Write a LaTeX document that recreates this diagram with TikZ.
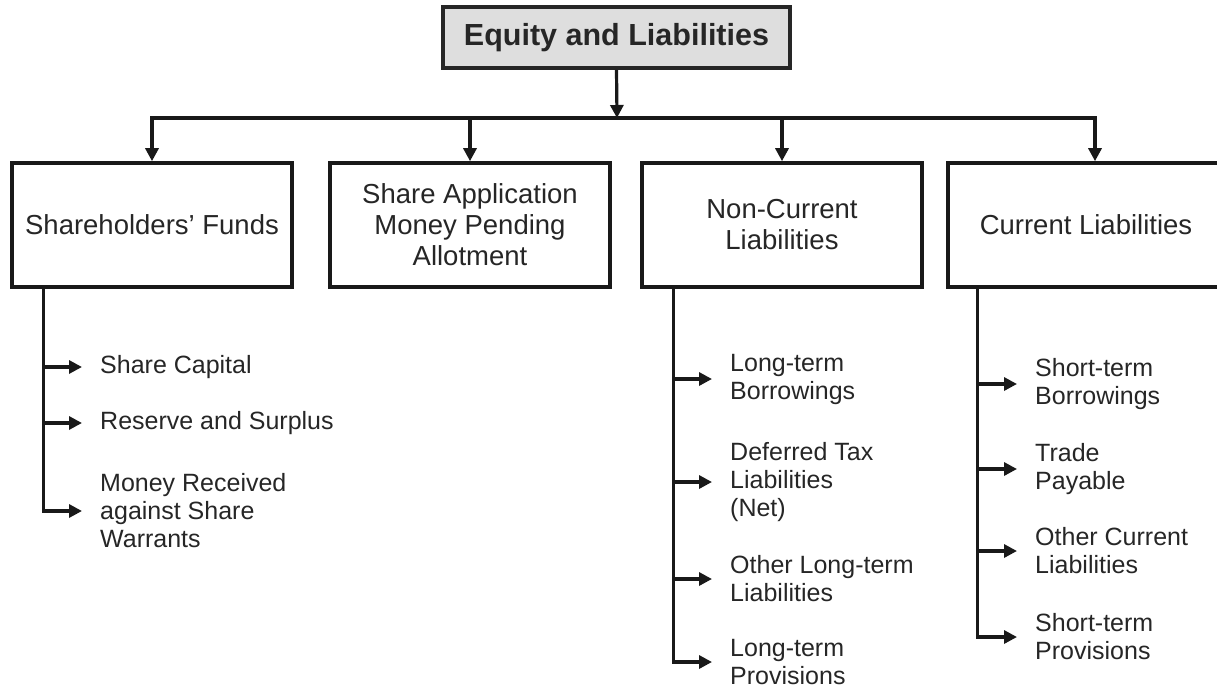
\documentclass[tikz,border=0pt]{standalone}
\usepackage{fontspec}
\setmainfont{Liberation Sans}
\usetikzlibrary{arrows.meta}
\begin{document}
\begin{tikzpicture}[x=1pt,y=-1pt,
  ink/.style={draw=black!90, line width=3.2pt},
  arr/.style={ink, -{Triangle[length=13pt,width=13pt]}},
  headbox/.style={draw=black!85, line width=3.6pt, fill=black!13,
    minimum width=347pt, minimum height=61pt, inner sep=0pt,
    font=\fontsize{30.5}{34}\selectfont\bfseries, text=black!85},
  catbox/.style={draw=black!90, line width=3.6pt, fill=white,
    minimum width=280pt, minimum height=124pt, inner sep=0pt, align=center,
    font=\fontsize{27.5}{31}\selectfont, text=black!85},
  itembox/.style={anchor=west, inner xsep=18pt, inner ysep=0pt, align=left,
    font=\fontsize{25}{28}\selectfont, text=black!85}
]
\useasboundingbox (0,0) rectangle (1217,690);

% head and the four groups
\node[headbox] (top) at (616.5,37.5) {Equity and Liabilities};
\coordinate (bus) at (617,118);
\coordinate (d4) at (1095,118);

\node[catbox] (b1) at (152,225) {Shareholders' Funds};
\node[catbox] (b2) at (470,225) {Share Application\\Money Pending\\Allotment};
\node[catbox] (b3) at (782,225) {Non-Current\\Liabilities};
\node[catbox, minimum width=276pt] (b4) at (1086,225) {Current Liabilities};

% distribution bus
\draw[arr] (top.south) -- (bus);
\draw[ink, line cap=rect] (b1.north |- bus) -- (d4);
\draw[arr] (b1.north |- bus) -- (b1.north);
\draw[arr] (b2.north |- bus) -- (b2.north);
\draw[arr] (b3.north |- bus) -- (b3.north);
\draw[arr] (d4) -- (d4 |- b4.north);

% items under each group
\node[itembox] (s1) at (82,367) {Share Capital};
\node[itembox] (s2) at (82,423) {Reserve and Surplus};
\node[itembox] (s3) at (82,511) {Money Received\\against Share\\Warrants};

\node[itembox] (n1) at (712,379) {Long-term\\Borrowings};
\node[itembox] (n2) at (712,482) {Deferred Tax\\Liabilities\\(Net)};
\node[itembox] (n3) at (712,579) {Other Long-term\\Liabilities};
\node[itembox] (n4) at (712,662) {Long-term\\Provisions};

\node[itembox] (c1) at (1017,384) {Short-term\\Borrowings};
\node[itembox] (c2) at (1017,469) {Trade\\Payable};
\node[itembox] (c3) at (1017,551) {Other Current\\Liabilities};
\node[itembox] (c4) at (1017,637) {Short-term\\Provisions};

% trunks
\coordinate (t1) at ([xshift=33pt]b1.south west);
\coordinate (t3) at ([xshift=33pt]b3.south west);
\coordinate (t4) at ([xshift=31pt]b4.south west);

\draw[arr] (t1) |- (s3.west);
\draw[arr] (t1 |- s1.west) -- (s1.west);
\draw[arr] (t1 |- s2.west) -- (s2.west);

\draw[arr] (t3) |- (n4.west);
\draw[arr] (t3 |- n1.west) -- (n1.west);
\draw[arr] (t3 |- n2.west) -- (n2.west);
\draw[arr] (t3 |- n3.west) -- (n3.west);

\draw[arr] (t4) |- (c4.west);
\draw[arr] (t4 |- c1.west) -- (c1.west);
\draw[arr] (t4 |- c2.west) -- (c2.west);
\draw[arr] (t4 |- c3.west) -- (c3.west);
\end{tikzpicture}
\end{document}
